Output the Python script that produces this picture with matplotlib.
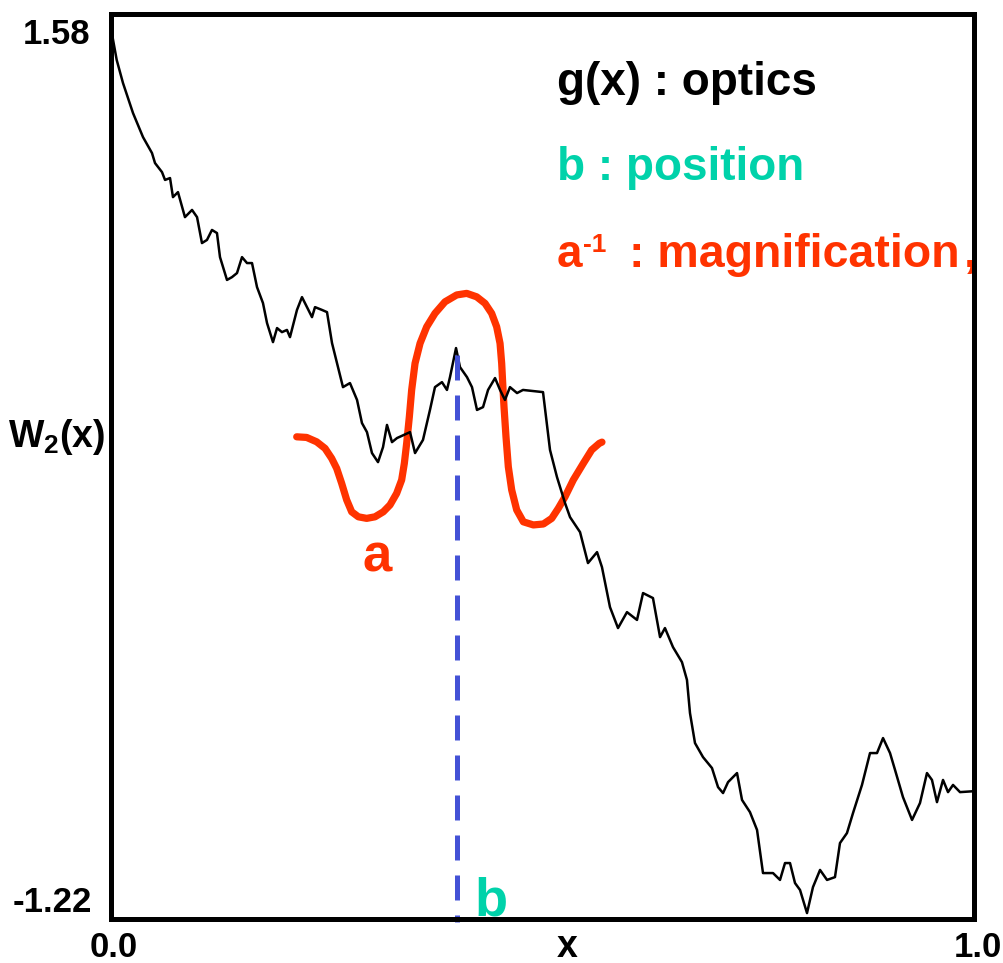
import matplotlib
matplotlib.use("Agg")
import matplotlib.pyplot as plt

plt.rcParams['font.family'] = ['Liberation Sans', 'DejaVu Sans']
plt.rcParams['font.weight'] = 'bold'
plt.rcParams['mathtext.fontset'] = 'custom'
plt.rcParams['mathtext.rm'] = 'Liberation Sans:bold'
plt.rcParams['mathtext.it'] = 'Liberation Sans:bold'
plt.rcParams['mathtext.bf'] = 'Liberation Sans:bold'

# signal W2(x)
w_x = [0.0020, 0.0066, 0.0139, 0.0255, 0.0371, 0.0475, 0.0510, 0.0591, 0.0626, 0.0684,
       0.0718, 0.0776, 0.0857, 0.0939, 0.0997, 0.1054, 0.1112, 0.1170, 0.1228, 0.1263,
       0.1344, 0.1402, 0.1460, 0.1518, 0.1576, 0.1634, 0.1692, 0.1761, 0.1808, 0.1877,
       0.1924, 0.1981, 0.2039, 0.2074, 0.2155, 0.2213, 0.2271, 0.2329, 0.2364, 0.2445,
       0.2503, 0.2561, 0.2630, 0.2688, 0.2769, 0.2851, 0.2908, 0.2966, 0.3024, 0.3094,
       0.3152, 0.3198, 0.3256, 0.3314, 0.3465, 0.3523, 0.3615, 0.3696, 0.3754, 0.3835,
       0.3893, 0.3928, 0.3998, 0.4044, 0.4125, 0.4183, 0.4241, 0.4311, 0.4369, 0.4450,
       0.4508, 0.4565, 0.4623, 0.4705, 0.4774, 0.5006, 0.5041, 0.5087, 0.5168, 0.5261,
       0.5319, 0.5435, 0.5527, 0.5632, 0.5689, 0.5782, 0.5875, 0.5979, 0.6095, 0.6165,
       0.6280, 0.6362, 0.6419, 0.6512, 0.6616, 0.6674, 0.6709, 0.6767, 0.6860, 0.6964,
       0.7034, 0.7092, 0.7150, 0.7254, 0.7312, 0.7404, 0.7486, 0.7555, 0.7671, 0.7752,
       0.7810, 0.7868, 0.7926, 0.7984, 0.8065, 0.8134, 0.8216, 0.8297, 0.8389, 0.8447,
       0.8528, 0.8598, 0.8702, 0.8795, 0.8876, 0.8946, 0.9027, 0.9085, 0.9177, 0.9282,
       0.9374, 0.9455, 0.9513, 0.9571, 0.9641, 0.9699, 0.9757, 0.9838, 1.0000]
w_y = [1.580, 1.510, 1.436, 1.340, 1.263, 1.212, 1.180, 1.151, 1.126, 1.132,
       1.071, 1.087, 1.007, 1.030, 1.007, 0.924, 0.934, 0.966, 0.956, 0.879,
       0.806, 0.815, 0.828, 0.879, 0.860, 0.860, 0.783, 0.732, 0.668, 0.607,
       0.652, 0.639, 0.646, 0.623, 0.710, 0.751, 0.719, 0.687, 0.719, 0.710,
       0.703, 0.604, 0.527, 0.463, 0.476, 0.422, 0.348, 0.319, 0.252, 0.223,
       0.271, 0.342, 0.287, 0.300, 0.319, 0.252, 0.294, 0.390, 0.463, 0.479,
       0.454, 0.495, 0.588, 0.527, 0.495, 0.463, 0.390, 0.399, 0.454, 0.492,
       0.454, 0.422, 0.463, 0.444, 0.454, 0.447, 0.367, 0.262, 0.175, 0.092,
       0.047, -0.001, -0.100, -0.065, -0.113, -0.241, -0.308, -0.257, -0.282, -0.196,
       -0.212, -0.337, -0.308, -0.369, -0.417, -0.474, -0.580, -0.676, -0.721, -0.756,
       -0.817, -0.836, -0.801, -0.772, -0.858, -0.897, -0.954, -1.092, -1.092, -1.114,
       -1.060, -1.060, -1.124, -1.146, -1.220, -1.137, -1.082, -1.114, -1.105, -0.996,
       -0.964, -0.900, -0.810, -0.708, -0.708, -0.660, -0.708, -0.762, -0.849, -0.922,
       -0.868, -0.772, -0.794, -0.865, -0.794, -0.833, -0.810, -0.833, -0.830]

# hand-drawn wavelet g(x) placed at b
g_x = [0.2152, 0.2267, 0.2383, 0.2480, 0.2557, 0.2615, 0.2673, 0.2731, 0.2789, 0.2866,
       0.2963, 0.3059, 0.3155, 0.3233, 0.3310, 0.3368, 0.3399, 0.3426, 0.3457, 0.3484,
       0.3523, 0.3581, 0.3658, 0.3754, 0.3870, 0.4006, 0.4122, 0.4237, 0.4334, 0.4411,
       0.4469, 0.4508, 0.4527, 0.4539, 0.4554, 0.4577, 0.4604, 0.4643, 0.4701, 0.4778,
       0.4894, 0.5010, 0.5107, 0.5183, 0.5261, 0.5357, 0.5473, 0.5570, 0.5658, 0.5689]
g_y = [0.304, 0.302, 0.288, 0.267, 0.235, 0.203, 0.155, 0.102, 0.064, 0.048,
       0.043, 0.048, 0.064, 0.086, 0.123, 0.166, 0.219, 0.283, 0.368, 0.454,
       0.539, 0.603, 0.656, 0.699, 0.736, 0.758, 0.763, 0.752, 0.731, 0.699,
       0.656, 0.603, 0.539, 0.475, 0.400, 0.304, 0.208, 0.134, 0.070, 0.032,
       0.022, 0.025, 0.043, 0.075, 0.112, 0.166, 0.219, 0.262, 0.283, 0.287]

b_pos = 0.4009
b_top = 0.566
y_ticks = ["1.58", "-1.22"]
x_ticks = ["0.0", "1.0"]

RED = '#ff3300'
TEAL = '#00d2aa'
BLUE = '#4452d6'

W, H = 1004, 963
fig = plt.figure(figsize=(W / 100, H / 100), dpi=100)
ax = fig.add_axes([111 / W, 1 - 919 / H, 863 / W, 905 / H])
ax.patch.set_alpha(0)
ax.set_xlim(0, 1)
ax.set_ylim(-1.239, 1.657)

ax.plot(w_x, w_y, color='black', lw=1.8, zorder=3)
ax.plot(g_x, g_y, color=RED, lw=5.2, solid_capstyle='round',
        solid_joinstyle='round', zorder=2)
ax.plot([b_pos, b_pos], [b_top, -1.25], color=BLUE, lw=3.6,
        dashes=(5, 3), clip_on=False, zorder=4)

ax.set_xticks([])
ax.set_yticks([])
for s in ax.spines.values():
    s.set_linewidth(3.6)
    s.set_zorder(5)


def px(x, y):
    return x / W, 1 - y / H


fig.text(*px(57, 35), y_ticks[0], fontsize=25, ha='center', va='center')
fig.text(*px(52, 902), y_ticks[1], fontsize=25, ha='center', va='center')
fig.text(*px(114, 957), x_ticks[0], fontsize=25, ha='center', va='baseline')
fig.text(*px(978, 957), x_ticks[1], fontsize=25, ha='center', va='baseline')
fig.text(*px(567, 957), "x", fontsize=27, ha='center', va='baseline')
fig.text(*px(8, 447), "W$_2$(x)", fontsize=27, ha='left', va='baseline')

fig.text(*px(557, 95), "g(x) : optics", fontsize=33, color='black', va='baseline')
fig.text(*px(557, 180), "b : position", fontsize=33, color=TEAL, va='baseline')
fig.text(*px(557, 267), "a", fontsize=33, color=RED, va='baseline')
fig.text(*px(583, 252), "-1", fontsize=19, color=RED, va='baseline')
fig.text(*px(629, 267), ": magnification", fontsize=33.5, color=RED, va='baseline')
# trailing comma tucked under the right spine
fig.text(*px(964, 267), ",", fontsize=33.5, color=RED, va='baseline', zorder=-1)
fig.text(*px(377, 572), "a", fontsize=38, color=RED, ha='center', va='baseline')
fig.text(*px(491, 915), "b", fontsize=39, color=TEAL, ha='center', va='baseline')

fig.savefig("out.png", dpi=100)
